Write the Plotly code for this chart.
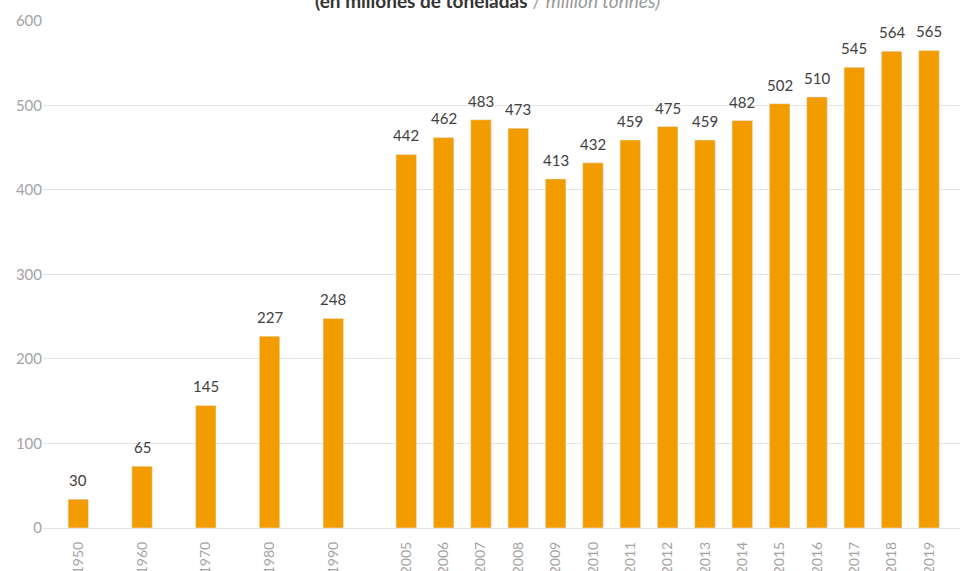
import plotly.graph_objects as go

# Data
years_early = ["1950", "1960", "1970", "1980", "1990"]
values_early = [34, 73, 145, 227, 248]
labels_early = ["30", "65", "145", "227", "248"]

years_recent = ["2005", "2006", "2007", "2008", "2009", "2010", "2011", "2012",
                "2013", "2014", "2015", "2016", "2017", "2018", "2019"]
values_recent = [442, 462, 483, 473, 413, 432, 459, 475, 459, 482, 502, 510, 545, 564, 565]
labels_recent = [str(v) for v in values_recent]

BAR = "#F29C00"
GRID = "#e4e4e4"
TICK = "#a3a3a3"
LABEL = "#404040"
FONT = "Lato"

fig = go.Figure()
fig.add_trace(go.Bar(x=years_early, y=values_early, marker_color=BAR, width=0.32,
                     xaxis="x", yaxis="y", hoverinfo="x+y"))
fig.add_trace(go.Bar(x=years_recent, y=values_recent, marker_color=BAR, width=0.55,
                     xaxis="x2", yaxis="y", hoverinfo="x+y"))

annotations = []
for xs, vs, ls, xr in [(years_early, values_early, labels_early, "x"),
                       (years_recent, values_recent, labels_recent, "x2")]:
    for i, (v, l) in enumerate(zip(vs, ls)):
        annotations.append(dict(x=i, y=v, xref=xr, yref="y", text=l, showarrow=False,
                                yanchor="bottom", yshift=8,
                                font=dict(family=FONT, size=15, color=LABEL)))

annotations.append(dict(
    x=0.5, y=1, xref="paper", yref="paper", xanchor="center", yanchor="bottom",
    yshift=6, xshift=-14, showarrow=False,
    text="<b>(en millones de toneladas</b><span style='color:#9a9a9a'> / <i>million tonnes)</i></span>",
    font=dict(family=FONT, size=19, color="#333333")))

split = 0.3758
xcommon = dict(type="category", tickangle=-90, showgrid=False, zeroline=False,
               showline=False, ticks="", ticklabelstandoff=10,
               tickfont=dict(family=FONT, size=14, color=TICK))

fig.update_layout(
    width=964, height=571,
    margin=dict(l=43, r=4, t=20, b=43, autoexpand=False),
    paper_bgcolor="white", plot_bgcolor="white",
    showlegend=False,
    xaxis=dict(domain=[0, split], range=[-0.554, 4.852], anchor="y", automargin=False, **xcommon),
    xaxis2=dict(domain=[split, 1], range=[-0.5, 14.83], anchor="y", automargin=False, **xcommon),
    yaxis=dict(range=[0, 601], dtick=100, showgrid=True, gridcolor=GRID, gridwidth=1,
               zeroline=True, zerolinecolor=GRID, zerolinewidth=1, showline=False,
               ticks="", automargin=False,
               tickfont=dict(family=FONT, size=15, color=TICK)),
    annotations=annotations,
    font=dict(family=FONT),
)

fig.write_html("out.html", config={"displayModeBar": False},
               post_script="document.body.style.margin='0px';document.body.style.overflow='hidden';")
